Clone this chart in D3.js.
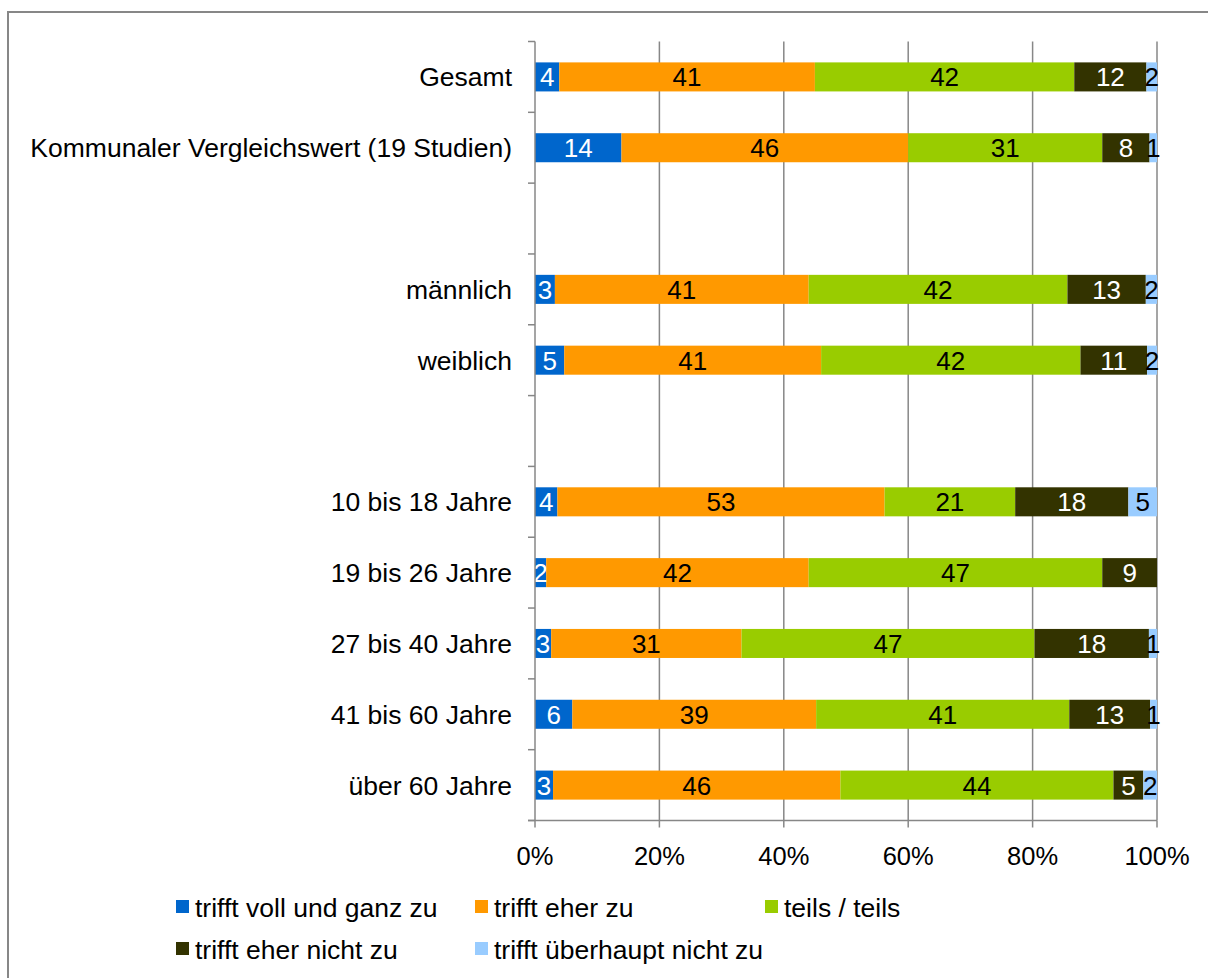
<!DOCTYPE html>
<html>
<head>
<meta charset="utf-8">
<script src="https://cdn.jsdelivr.net/npm/d3@7"></script>
<style>
  body { margin: 0; background: #fff; }
  text { font-family: "Liberation Sans", Arial, sans-serif; }
</style>
</head>
<body>
<div class="chart"></div>
<script>
// Data
var categories = ["Gesamt", "Kommunaler Vergleichswert (19 Studien)", "", "männlich", "weiblich", "",
  "10 bis 18 Jahre", "19 bis 26 Jahre", "27 bis 40 Jahre", "41 bis 60 Jahre", "über 60 Jahre"];
var seriesNames = ["trifft voll und ganz zu", "trifft eher zu", "teils / teils", "trifft eher nicht zu", "trifft überhaupt nicht zu"];
var seriesColors = ["#0066cc", "#ff9900", "#99cc00", "#333300", "#99ccff"];
var labelColors = ["#fff", "#000", "#000", "#fff", "#000"];

var vollUndGanz = [3.9, 13.9, null, 3.2, 4.7, null, 3.6, 1.8, 2.6, 6.0, 2.9];
var eherZu      = [41.1, 46.1, null, 40.8, 41.3, null, 52.6, 42.2, 30.6, 39.2, 46.2];
var teilsTeils  = [41.7, 31.2, null, 41.6, 41.7, null, 21.0, 47.2, 47.1, 40.7, 43.9];
var eherNicht   = [11.6, 7.6, null, 12.6, 10.7, null, 18.2, 8.8, 18.4, 13.0, 4.8];
var ueberhaupt  = [1.7, 1.2, null, 1.8, 1.6, null, 4.6, 0, 1.3, 1.1, 2.2];

var xTicks = [0, 20, 40, 60, 80, 100];

var allSeries = [vollUndGanz, eherZu, teilsTeils, eherNicht, ueberhaupt];

// Configuration
var width = 1208;
var height = 978;
var plot = {left: 535, right: 1157, top: 41.5, bottom: 820.5};

var svg = d3.select(".chart").append("svg")
  .attr("width", width)
  .attr("height", height);

// outer frame
svg.append("rect")
  .attr("x", 8).attr("y", 12)
  .attr("width", 1300).attr("height", 1100)
  .attr("fill", "none")
  .attr("stroke", "#878787")
  .attr("stroke-width", 2);

var x = d3.scaleLinear().domain([0, 100]).range([plot.left, plot.right]);
var y = d3.scaleBand().domain(d3.range(categories.length)).range([plot.top, plot.bottom]).padding(0);
var barH = y.bandwidth() * 0.41;

// vertical gridlines
svg.append("g").selectAll("line")
  .data(xTicks.slice(1))
  .enter().append("line")
  .attr("x1", function(d) { return x(d); })
  .attr("x2", function(d) { return x(d); })
  .attr("y1", plot.top)
  .attr("y2", plot.bottom)
  .attr("stroke", "#878787")
  .attr("stroke-width", 1.5);

// stacked rows
var rows = categories.map(function(c, i) {
  var obj = {idx: i};
  seriesNames.forEach(function(s, j) { obj[s] = allSeries[j][i] || 0; });
  return obj;
}).filter(function(d, i) { return categories[i] !== ""; });

var stacked = d3.stack().keys(seriesNames)(rows);

var layers = svg.append("g").selectAll("g")
  .data(stacked)
  .enter().append("g")
  .attr("fill", function(d, i) { return seriesColors[i]; });

layers.selectAll("rect")
  .data(function(d) { return d.filter(function(p) { return p[1] - p[0] > 0; }); })
  .enter().append("rect")
  .attr("x", function(d) { return x(d[0]); })
  .attr("width", function(d) { return x(d[1]) - x(d[0]); })
  .attr("y", function(d) { return y(d.data.idx) + (y.bandwidth() - barH) / 2; })
  .attr("height", barH);

// data labels
stacked.forEach(function(layer, i) {
  svg.append("g").selectAll("text")
    .data(layer.filter(function(p) { return p[1] - p[0] > 0; }))
    .enter().append("text")
    .attr("x", function(d) { return (x(d[0]) + x(d[1])) / 2; })
    .attr("y", function(d) { return y(d.data.idx) + y.bandwidth() / 2 + 9.5; })
    .attr("text-anchor", "middle")
    .attr("font-size", 26)
    .attr("fill", labelColors[i])
    .text(function(d) { return Math.round(d[1] - d[0]); });
});

// left axis
var yAxis = svg.append("g")
  .attr("transform", "translate(" + plot.left + ",0)");
yAxis.append("line")
  .attr("x1", 0).attr("x2", 0)
  .attr("y1", plot.top).attr("y2", plot.bottom)
  .attr("stroke", "#878787").attr("stroke-width", 1.5);
yAxis.selectAll(".tk")
  .data(d3.range(categories.length + 1))
  .enter().append("line")
  .attr("x1", -7).attr("x2", 0)
  .attr("y1", function(d) { return plot.top + d * y.step(); })
  .attr("y2", function(d) { return plot.top + d * y.step(); })
  .attr("stroke", "#878787").attr("stroke-width", 1.5);
yAxis.selectAll("text")
  .data(categories)
  .enter().append("text")
  .attr("x", -23)
  .attr("y", function(d, i) { return y(i) + y.bandwidth() / 2 + 9.5; })
  .attr("text-anchor", "end")
  .attr("font-size", 26.5)
  .attr("fill", "#000")
  .text(function(d) { return d; });

// bottom axis
var xAxis = svg.append("g")
  .attr("transform", "translate(0," + plot.bottom + ")");
xAxis.append("line")
  .attr("x1", plot.left - 7).attr("x2", plot.right)
  .attr("y1", 0).attr("y2", 0)
  .attr("stroke", "#878787").attr("stroke-width", 1.5);
xAxis.selectAll(".tk")
  .data(xTicks)
  .enter().append("line")
  .attr("x1", function(d) { return x(d); })
  .attr("x2", function(d) { return x(d); })
  .attr("y1", 0).attr("y2", 7)
  .attr("stroke", "#878787").attr("stroke-width", 1.5);
xAxis.selectAll("text")
  .data(xTicks)
  .enter().append("text")
  .attr("x", function(d) { return x(d); })
  .attr("y", 44)
  .attr("text-anchor", "middle")
  .attr("font-size", 25.5)
  .attr("fill", "#000")
  .text(function(d) { return d + "%"; });

// legend
var legendPos = [[176, 907], [475, 907], [765, 907], [176, 949], [475, 949]];
var legend = svg.append("g").selectAll("g")
  .data(seriesNames)
  .enter().append("g")
  .attr("transform", function(d, i) { return "translate(" + legendPos[i][0] + "," + legendPos[i][1] + ")"; });
legend.append("rect")
  .attr("x", 0).attr("y", -7)
  .attr("width", 13).attr("height", 13)
  .attr("fill", function(d, i) { return seriesColors[i]; });
legend.append("text")
  .attr("x", 19).attr("y", 9.5)
  .attr("font-size", 26.5)
  .attr("fill", "#000")
  .text(function(d) { return d; });
</script>
</body>
</html>
